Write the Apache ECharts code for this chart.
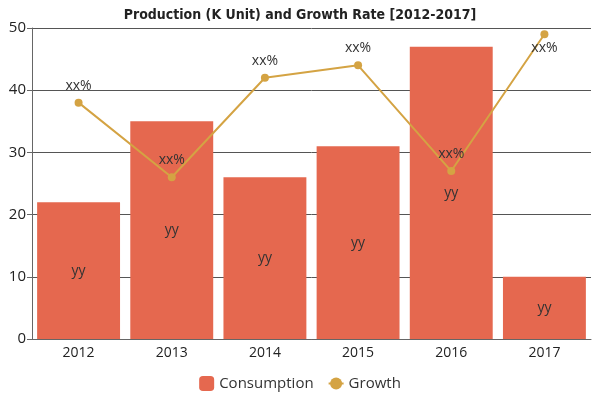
<!DOCTYPE html>
<html>
<head>
<meta charset="utf-8">
<script src="https://cdn.jsdelivr.net/npm/echarts@6/dist/echarts.min.js"></script>
<style>
  html, body { margin: 0; padding: 0; background: #fff; }
  #myChart1 { width: 600px; height: 400px; }
</style>
</head>
<body>
<div id="myChart1"></div>
<script>
var years = ['2012', '2013', '2014', '2015', '2016', '2017'];
var consumption = [22, 35, 26, 31, 47, 10];
var growth = [38, 26, 42, 44, 27, 49];
var barLabel = 'yy';
var lineLabel = 'xx%';

var myChart = echarts.init(document.getElementById("myChart1"));
var option = {
    title: {
        text: 'Production (K Unit) and Growth Rate [2012-2017]',
        left: 'center',
        top: 3,
        textStyle: {
            fontFamily: 'DejaVu Sans Condensed',
            fontWeight: 'bold',
            fontSize: 14,
            color: '#222'
        }
    },
    legend: {
        data: ['Consumption', 'Growth'],
        bottom: 4,
        itemWidth: 15,
        itemHeight: 15,
        itemGap: 14,
        textStyle: { fontFamily: 'Open Sans', fontSize: 15, color: '#333' }
    },
    grid: { left: 32, right: 9, top: 28, bottom: 61 },
    xAxis: {
        type: 'category',
        data: years,
        axisTick: { alignWithLabel: true, lineStyle: { color: '#666' } },
        axisLine: { lineStyle: { color: '#666' } },
        axisLabel: { color: '#222', fontSize: 14, fontFamily: 'Open Sans', margin: 7 }
    },
    yAxis: {
        type: 'value',
        min: 0,
        max: 50,
        interval: 10,
        axisLine: { show: true, lineStyle: { color: '#666' } },
        axisTick: { show: true, length: 5, lineStyle: { color: '#666' } },
        splitLine: { lineStyle: { color: '#555' } },
        axisLabel: { color: '#222', fontSize: 15, fontFamily: 'Open Sans', margin: 6 }
    },
    series: [{
        name: 'Consumption',
        type: 'bar',
        data: consumption,
        barCategoryGap: '11%',
        itemStyle: { color: '#E5684F' },
        label: {
            show: true,
            position: 'inside',
            formatter: barLabel,
            color: '#333',
            fontSize: 14,
            fontFamily: 'Open Sans'
        }
    }, {
        name: 'Growth',
        type: 'line',
        data: growth.map(function (v, i) {
            return i === growth.length - 1
                ? { value: v, label: { position: 'bottom', distance: 3 } }
                : v;
        }),
        symbol: 'circle',
        symbolSize: 8,
        itemStyle: { color: '#D4A343' },
        lineStyle: { color: '#D4A343', width: 2 },
        label: {
            show: true,
            position: 'top',
            distance: 6,
            formatter: lineLabel,
            color: '#333',
            fontSize: 14,
            fontFamily: 'Open Sans'
        }
    }]
};
myChart.setOption(option);
</script>
</body>
</html>
